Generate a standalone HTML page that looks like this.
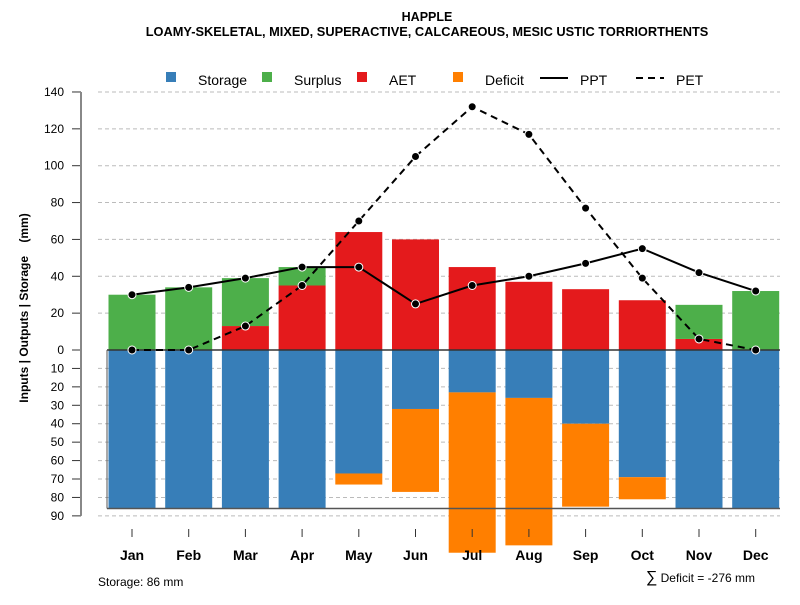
<!DOCTYPE html>
<html><head><meta charset="utf-8"><style>
body{margin:0;background:#fff;}
svg{font-family:"Liberation Sans",sans-serif;}
</style></head><body>
<svg id="chart" width="800" height="600" xmlns="http://www.w3.org/2000/svg">
<text x="427" y="21" text-anchor="middle" font-size="12.5" font-weight="bold">HAPPLE</text>
<text x="427" y="36" text-anchor="middle" font-size="12.8" font-weight="bold">LOAMY-SKELETAL, MIXED, SUPERACTIVE, CALCAREOUS, MESIC USTIC TORRIORTHENTS</text>
<g id="legend">
<rect x="166" y="72" width="10" height="10" fill="#377eb8"/>
<text x="198" y="85" font-size="14">Storage</text>
<rect x="262" y="72" width="10" height="10" fill="#4daf4a"/>
<text x="294" y="85" font-size="14">Surplus</text>
<rect x="357" y="72" width="10" height="10" fill="#e41a1c"/>
<text x="389" y="85" font-size="14">AET</text>
<rect x="453" y="72" width="10" height="10" fill="#ff7f00"/>
<text x="485" y="85" font-size="14">Deficit</text>
<line x1="540" y1="78" x2="568" y2="78" stroke="#000" stroke-width="2"/>
<text x="580" y="85" font-size="14">PPT</text>
<line x1="636" y1="78" x2="664" y2="78" stroke="#000" stroke-width="2" stroke-dasharray="7,5"/>
<text x="676" y="85" font-size="14">PET</text>
</g>
<text transform="translate(28,308) rotate(-90)" text-anchor="middle" font-size="12" font-weight="bold" xml:space="preserve">Inputs | Outputs | Storage    (mm)</text>
<text x="98" y="586" font-size="12">Storage: 86 mm</text>
<text x="755" y="582" text-anchor="end" font-size="12"><tspan font-size="16">∑</tspan> Deficit = -276 mm</text>
<g id="plot"></g>
</svg>
<script>
const months=["Jan","Feb","Mar","Apr","May","Jun","Jul","Aug","Sep","Oct","Nov","Dec"];
const storage=[86,86,86,86,67,32,23,26,40,69,86,86];
const deficit=[0,0,0,0,6,45,87,80,45,12,0,0];
const aet=[0,0,13,35,64,60,45,37,33,27,6,0];
const surplus=[30,34,26,10,0,0,0,0,0,0,18.5,32];
const ppt=[30,34,39,45,45,25,35,40,47,55,42,32];
const pet=[0,0,13,35,70,105,132,117,77,39,6,0];
const posTicks=[0,20,40,60,80,100,120,140];
const negTicks=[10,20,30,40,50,60,70,80,90];
const capacity=86;

const NS="http://www.w3.org/2000/svg";
const g=document.getElementById("plot");
const y0=350, k=1.843;
const yUp=v=>y0-v*k, yDn=v=>y0+v*k;
const xC=i=>132+i*56.7;
const bw=47;
function mk(tag,attrs){const e=document.createElementNS(NS,tag);for(const a in attrs)e.setAttribute(a,attrs[a]);g.appendChild(e);return e;}

posTicks.forEach(t=>{
  const y=yUp(t);
  if(t>0){const l=mk("line",{x1:98,x2:780,y1:y,y2:y,stroke:"#bbb","stroke-dasharray":"4,3"});
  
  }
  const tk=mk("line",{x1:72,x2:81,y1:y,y2:y,stroke:"#333"});
  
  
  const tx=mk("text",{x:64,y:y+4,"text-anchor":"end","font-size":12});tx.textContent=t;
  
  
});
negTicks.forEach(t=>{
  const y=yDn(t);
  const l=mk("line",{x1:98,x2:780,y1:y,y2:y,stroke:"#bbb","stroke-dasharray":"4,3"});
  
  
  const tk=mk("line",{x1:72,x2:81,y1:y,y2:y,stroke:"#333"});
  
  
  const tx=mk("text",{x:64,y:y+4,"text-anchor":"end","font-size":12});tx.textContent=t;
  
  
});
const ax=mk("line",{x1:81,x2:81,y1:yUp(140),y2:yDn(90),stroke:"#888","stroke-width":2});



months.forEach((m,i)=>{
  const x=xC(i)-bw/2;
  let r=mk("rect",{x:x,y:y0,width:bw,height:storage[i]*k,fill:"#377eb8"});
  
  
  if(deficit[i]>0){r=mk("rect",{x:x,y:yDn(storage[i]),width:bw,height:deficit[i]*k,fill:"#ff7f00"});
  
  }
  if(aet[i]>0){r=mk("rect",{x:x,y:yUp(aet[i]),width:bw,height:aet[i]*k,fill:"#e41a1c"});
  
  }
  if(surplus[i]>0){r=mk("rect",{x:x,y:yUp(aet[i]+surplus[i]),width:bw,height:surplus[i]*k,fill:"#4daf4a"});
  
  }
  const tk=mk("line",{x1:xC(i),x2:xC(i),y1:529,y2:537,stroke:"#333"});
  
  
  const tx=mk("text",{x:xC(i),y:560,"text-anchor":"middle","font-size":14,"font-weight":"bold"});tx.textContent=m;
  
  
});
let hl=mk("line",{x1:107,x2:780,y1:y0,y2:y0,stroke:"#333","stroke-width":1.5});


hl=mk("line",{x1:107,x2:780,y1:yDn(capacity),y2:yDn(capacity),stroke:"#555","stroke-width":1.5});


hl=mk("line",{x1:107,x2:107,y1:y0,y2:yDn(capacity),stroke:"#555","stroke-width":1});



function series(vals,name,dash){
  const pts=vals.map((v,i)=>xC(i)+","+yUp(v)).join(" ");
  const p=mk("polyline",{points:pts,fill:"none",stroke:"#000","stroke-width":2});
  if(dash)p.setAttribute("stroke-dasharray","7,5");
  
  
  vals.forEach((v,i)=>{
    const c=mk("circle",{cx:xC(i),cy:yUp(v),r:4,fill:"#000",stroke:"#fff","stroke-width":1});
    
    
  });
}
series(ppt,"ppt",false);
series(pet,"pet",true);
</script>
</body></html>
